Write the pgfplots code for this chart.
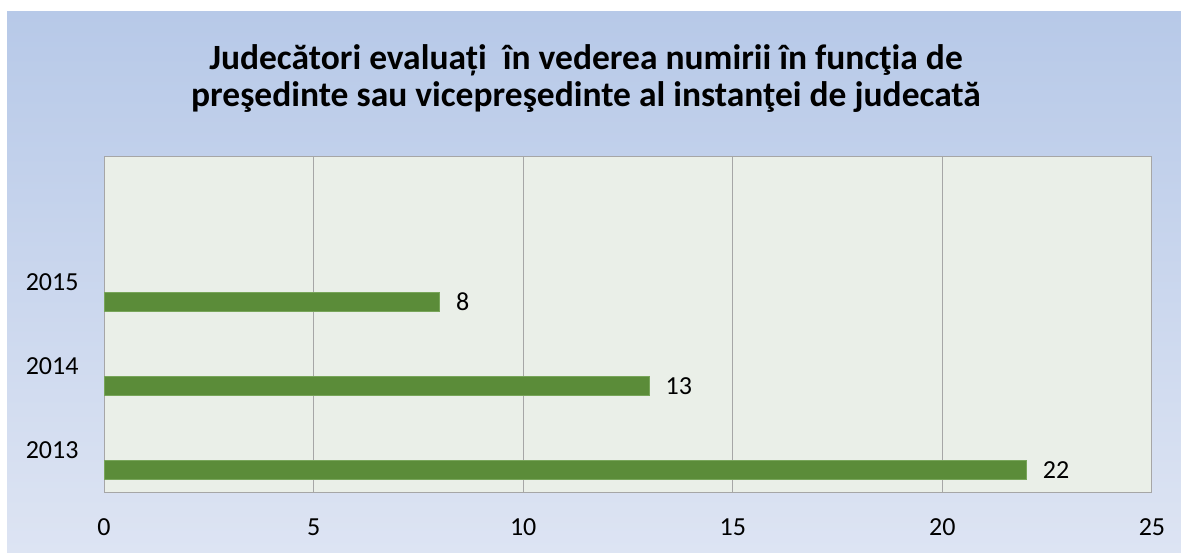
\documentclass[border=0pt]{standalone}
\usepackage{pgfplots}
\pgfplotsset{compat=1.18}
\usepackage{fontspec}
\setmainfont{Carlito}
\definecolor{bgtop}{RGB}{183,201,232}
\definecolor{bgbot}{RGB}{221,228,243}
\definecolor{plotbg}{RGB}{234,239,232}
\definecolor{bargreen}{RGB}{91,140,57}
\definecolor{baredge}{RGB}{120,165,90}

\begin{document}
\begin{tikzpicture}
% white page and chart background
\fill[white] (0pt,0pt) rectangle (1181pt,-552pt);
\shade[top color=bgtop, bottom color=bgbot] (7pt,-11pt) rectangle (1181pt,-552pt);
\node[font=\fontsize{35.5}{37}\selectfont\bfseries, align=center, anchor=center]
  at (586pt,-79pt) {Judecători evaluați\ \ în vederea numirii în funcţia de\\preşedinte sau vicepreşedinte al instanţei de judecată};
\begin{axis}[
    at={(104pt,-492pt)}, anchor=south west,
    scale only axis,
    width=1048pt, height=336pt,
    xbar, bar width=19pt, bar shift=-20pt,
    xmin=0, xmax=25,
    ymin=-0.5, ymax=3.5,
    xtick={0,5,10,15,20,25},
    ytick={0,1,2},
    yticklabels={2013,2014,2015},
    major tick length=0pt,
    xmajorgrids,
    grid style={draw=gray!70, line width=1pt},
    axis line style={draw=gray!70, line width=1pt},
    axis background/.style={fill=plotbg},
    tick label style={font=\fontsize{26}{30}\selectfont, text height=17pt, text depth=0pt},
    /pgf/number format/assume math mode=true,
    xticklabel style={yshift=-23pt},
    yticklabel style={xshift=-22pt},
    nodes near coords,
    nodes near coords style={font=\fontsize{26}{30}\selectfont, anchor=west, xshift=13pt, text=black},
]
\addplot[fill=bargreen, draw=baredge, line width=0.8pt] coordinates {
    (22,0)
    (13,1)
    (8,2)
};
\end{axis}
\end{tikzpicture}
\end{document}
